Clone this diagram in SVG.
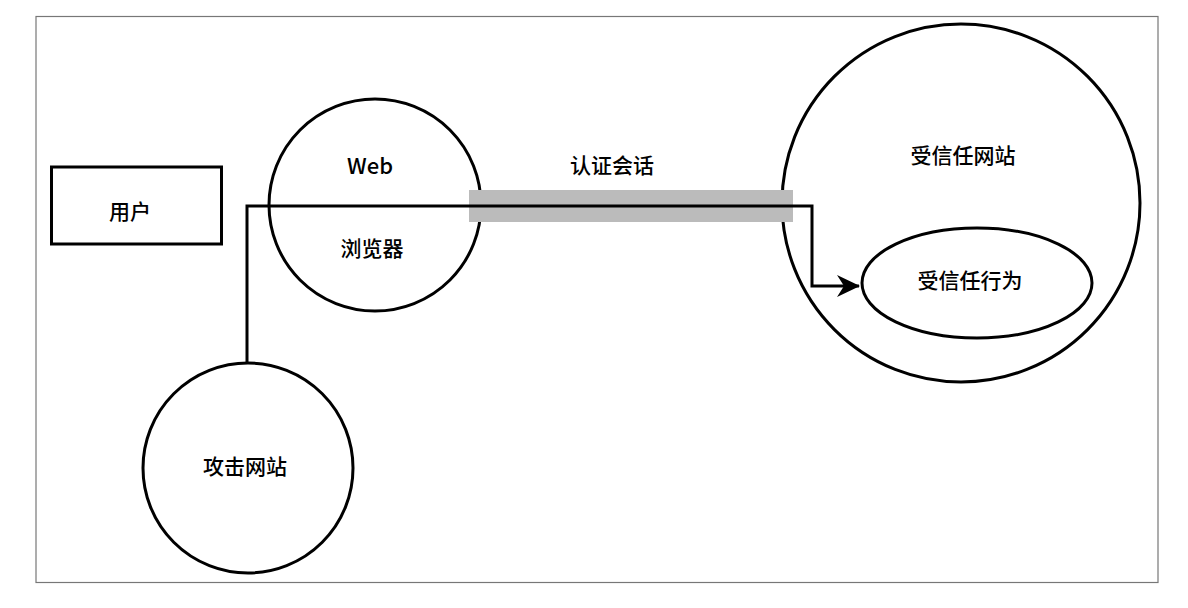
<svg xmlns="http://www.w3.org/2000/svg" width="1188" height="608" viewBox="0 0 1188 608">
<style>
.n{fill:#fff;stroke:#000;stroke-width:3}
.t{font-family:"Noto Sans CJK SC","Noto Sans",sans-serif;font-size:21px;font-weight:500;fill:#000;text-anchor:middle;dominant-baseline:central}
.c{fill:none;stroke:#000;stroke-width:3}
</style>
<defs>
<marker id="ah" markerWidth="24" markerHeight="22" refX="22" refY="11" orient="auto" markerUnits="userSpaceOnUse" viewBox="0 0 24 22">
<path d="M0,0 L23,11 L0,22 L7,11 z" fill="#000"/>
</marker>
</defs>
<rect x="0" y="0" width="1188" height="608" fill="#fff"/>
<rect x="36" y="16.5" width="1122" height="566" fill="none" stroke="#777" stroke-width="1.2"/>
<g id="user"><rect class="n" x="51.5" y="167" width="170" height="77"/><text class="t" x="130" y="210">用户</text></g>
<g id="browser"><circle class="n" cx="375" cy="205" r="106"/><text class="t" x="370" y="164" style="font-size:22px">Web</text><text class="t" x="372" y="247">浏览器</text></g>
<g id="trusted-site"><circle class="n" cx="961" cy="203" r="179"/><text class="t" x="963" y="154">受信任网站</text></g>
<g id="trusted-action"><ellipse class="n" cx="977" cy="283" rx="115" ry="55"/><text class="t" x="970" y="279">受信任行为</text></g>
<g id="attack-site"><circle class="n" cx="248" cy="468" r="105"/><text class="t" x="245" y="465">攻击网站</text></g>
<g id="session"><rect x="469" y="190" width="324" height="32" fill="#bbb"/><text class="t" x="612" y="164">认证会话</text></g>
<g id="connectors">
<path class="c" d="M247,363 V206 H812 V286 H859" marker-end="url(#ah)"/>
</g>
</svg>
